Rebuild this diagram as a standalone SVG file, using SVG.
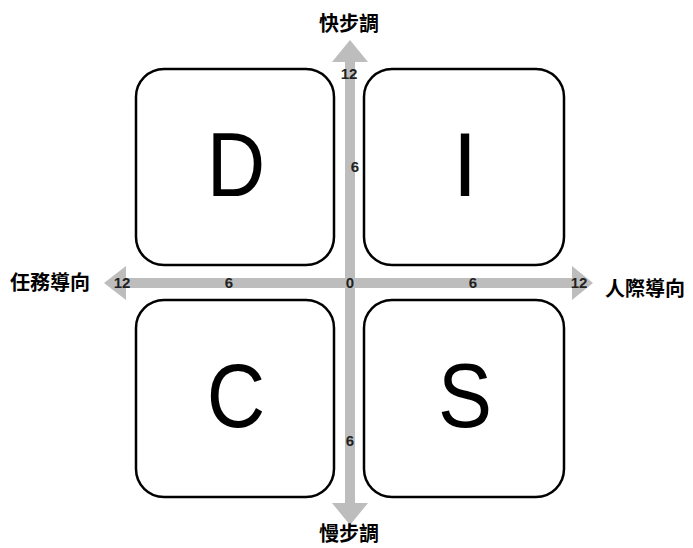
<svg xmlns="http://www.w3.org/2000/svg" width="693" height="548" viewBox="0 0 693 548">
<style>
.box{fill:#fff;stroke:#000;stroke-width:2.5}
.big{font-family:"Liberation Sans",Arial,sans-serif;font-size:90px;text-anchor:middle;fill:#000}
.num{font-family:"Liberation Sans",Arial,sans-serif;font-size:15px;font-weight:bold;text-anchor:middle;fill:#222}
.lab{font-family:"Noto Sans CJK TC","Noto Sans CJK SC",sans-serif;font-size:20px;font-weight:bold;fill:#000}
.ax{fill:#bdbdbd}
</style>
<rect width="693" height="548" fill="#fff"/>
<g id="box-D"><rect class="box" x="136" y="69" width="198" height="196" rx="28"/><text class="big" x="236" y="196" transform="translate(236 0) scale(0.9 1) translate(-236 0)">D</text></g>
<g id="box-I"><rect class="box" x="364" y="69" width="200" height="196" rx="28"/><text class="big" x="465" y="196">I</text></g>
<g id="box-C"><rect class="box" x="136" y="300" width="198" height="197" rx="28"/><text class="big" x="236" y="427" transform="translate(236 0) scale(0.9 1) translate(-236 0)">C</text></g>
<g id="box-S"><rect class="box" x="364" y="300" width="200" height="197" rx="28"/><text class="big" x="465" y="427" transform="translate(465 0) scale(0.9 1) translate(-465 0)">S</text></g>
<g id="connectors">
<polygon class="ax" points="345,62 332,62 350,40 368,62 355,62 355,503 368,503 350,525 332,503 345,503"/>
<polygon class="ax" points="126,278 126,266 104,283 126,300 126,288 572,288 572,300 593,283 572,266 572,278"/>
</g>
<g id="labels">
<text class="num" x="349" y="79">12</text>
<text class="num" x="355" y="172">6</text>
<text class="num" x="122" y="288">12</text>
<text class="num" x="229" y="288">6</text>
<text class="num" x="350" y="288">0</text>
<text class="num" x="473" y="288">6</text>
<text class="num" x="579" y="288">12</text>
<text class="num" x="350" y="446">6</text>
<text class="lab" x="349" y="31" text-anchor="middle">快步調</text>
<text class="lab" x="349" y="541" text-anchor="middle">慢步調</text>
<text class="lab" x="10" y="290">任務導向</text>
<text class="lab" x="605" y="296">人際導向</text>
</g>
</svg>
